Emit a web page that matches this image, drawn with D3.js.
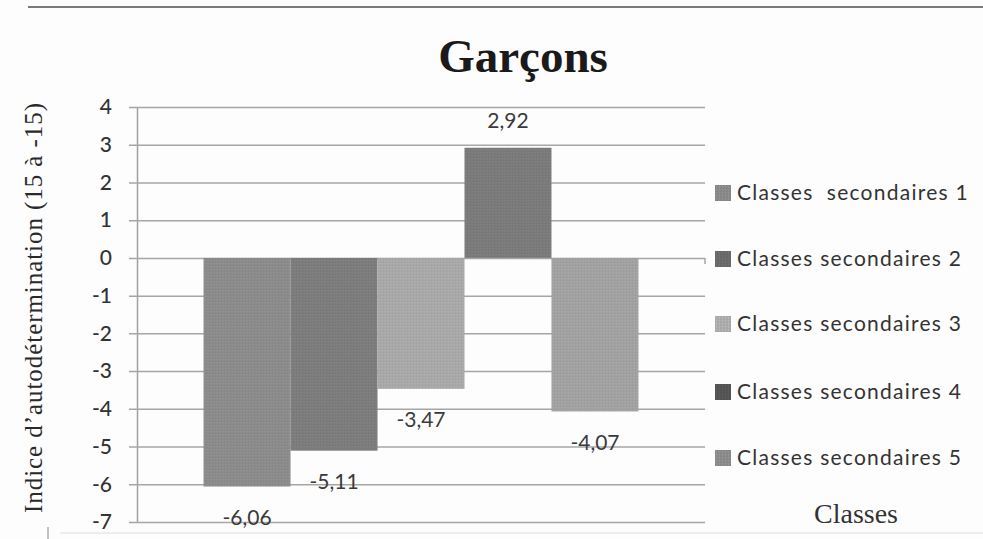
<!DOCTYPE html>
<html>
<head>
<meta charset="utf-8">
<script src="https://cdn.jsdelivr.net/npm/d3@7"></script>
<style>
  html, body { margin: 0; padding: 0; background: #fdfdfd; }
  svg { display: block; }
</style>
</head>
<body>
<script>
// Self-determination index for boys, by secondary class
const categories = ["Classes"];
const seriesNames = [
  "Classes  secondaires 1",
  "Classes secondaires 2",
  "Classes secondaires 3",
  "Classes secondaires 4",
  "Classes secondaires 5"
];
const seriesValues = [-6.06, -5.11, -3.47, 2.92, -4.07];
const valueLabels = ["-6,06", "-5,11", "-3,47", "2,92", "-4,07"];
const yTicks = [4, 3, 2, 1, 0, -1, -2, -3, -4, -5, -6, -7];
const seriesColors = ["#8c8c8c", "#7d7d7d", "#a9a9a9", "#7b7b7b", "#a2a2a2"];
const legendColors = ["#8a8a8a", "#6a6a6a", "#adadad", "#555555", "#8c8c8c"];

const W = 983, H = 539;
const margin = { left: 137, right: 705, top: 107, bottom: 522 };
const sans = "Lato, 'Open Sans', sans-serif";
const serif = "'Liberation Serif', 'Times New Roman', serif";

const svg = d3.select("body").append("svg")
  .attr("width", W).attr("height", H);

svg.append("rect").attr("width", W).attr("height", H).attr("fill", "#fdfdfd");

// Fine stippled fills for the bars
const defs = svg.append("defs");
function makePattern(id, base) {
  const c = d3.color(base);
  const p = defs.append("pattern").attr("id", id)
    .attr("patternUnits", "userSpaceOnUse").attr("width", 3).attr("height", 3);
  p.append("rect").attr("width", 3).attr("height", 3).attr("fill", base);
  const dark = c.darker(0.2).formatHex();
  const light = c.brighter(0.15).formatHex();
  [[0, 0, dark], [2, 1, dark], [1, 2, light], [1, 0, light]]
    .forEach(([x, y, f]) => p.append("rect").attr("x", x).attr("y", y)
      .attr("width", 1).attr("height", 1).attr("fill", f));
  return `url(#${id})`;
}
const fills = seriesColors.map((c, i) => makePattern("fill" + i, c));
const legendFills = legendColors.map((c, i) => makePattern("lfill" + i, c));

// Frame lines
svg.append("line")
  .attr("x1", 28).attr("x2", W).attr("y1", 7).attr("y2", 7)
  .attr("stroke", "#7a7a7a").attr("stroke-width", 2);
svg.append("line")
  .attr("x1", 60).attr("x2", W).attr("y1", 533).attr("y2", 533)
  .attr("stroke", "#dddddd").attr("stroke-width", 1);
svg.append("line")
  .attr("x1", 48).attr("x2", 48).attr("y1", 527).attr("y2", 539)
  .attr("stroke", "#888").attr("stroke-width", 1);

// Scales
const y = d3.scaleLinear().domain([-7, 4]).range([margin.bottom, margin.top]);
const x0 = d3.scaleBand().domain(categories)
  .range([margin.left, margin.right]).paddingInner(0).paddingOuter(0.153);
const x1 = d3.scaleBand().domain(d3.range(seriesValues.length))
  .range([0, x0.bandwidth()]).padding(0);

// Gridlines and value axis
const yAxis = d3.axisLeft(y).tickValues(yTicks)
  .tickSize(-(margin.right - margin.left)).tickSizeOuter(0)
  .tickPadding(25).tickFormat(d => d3.format("d")(d).replace("−", "-"));
const gy = svg.append("g").attr("transform", `translate(${margin.left},0)`).call(yAxis);
gy.select(".domain").attr("stroke", "#a0a0a0").attr("stroke-width", 1.5);
gy.selectAll(".tick line").attr("stroke", "#a6a6a6").attr("stroke-width", 1.5)
  .attr("x1", -8);
gy.selectAll(".tick text")
  .attr("font-family", sans).attr("font-weight", 500)
  .attr("font-size", 21).attr("fill", "#333");

// Right-end tick on the zero line
svg.append("line")
  .attr("x1", margin.right).attr("x2", margin.right)
  .attr("y1", y(0)).attr("y2", y(0) + 6)
  .attr("stroke", "#a6a6a6").attr("stroke-width", 1.5);

// Bars
const group = svg.append("g").attr("transform", `translate(${x0(categories[0])},0)`);
group.selectAll("rect.bar").data(seriesValues).join("rect")
  .attr("class", "bar")
  .attr("x", (d, i) => x1(i))
  .attr("width", x1.bandwidth())
  .attr("y", d => y(Math.max(0, d)))
  .attr("height", d => Math.abs(y(d) - y(0)))
  .attr("fill", (d, i) => fills[i]);

// Value labels
group.selectAll("text.val").data(seriesValues).join("text")
  .attr("class", "val")
  .attr("x", (d, i) => x1(i) + x1.bandwidth() / 2)
  .attr("y", d => d < 0 ? y(d) + 31 : y(d) - 27)
  .attr("dy", "0.35em")
  .attr("text-anchor", "middle")
  .attr("font-family", sans)
  .attr("font-size", 21).attr("fill", "#3a3a3a")
  .text((d, i) => valueLabels[i]);

// Title
svg.append("text")
  .attr("x", 523).attr("y", 72)
  .attr("text-anchor", "middle")
  .attr("font-family", serif)
  .attr("font-weight", "bold").attr("font-size", 47).attr("fill", "#1a1a1a")
  .text("Garçons");

// Y-axis title
svg.append("text")
  .attr("transform", "translate(42,308) rotate(-90)")
  .attr("text-anchor", "middle")
  .attr("font-family", serif)
  .attr("font-size", 25).attr("fill", "#2a2a2a")
  .attr("textLength", 410).attr("lengthAdjust", "spacing")
  .text("Indice d’autodétermination (15 à -15)");

// Legend
const legendY = [193, 259, 324, 392, 458];
const legend = svg.append("g");
const rows = legend.selectAll("g").data(seriesNames).join("g")
  .attr("transform", (d, i) => `translate(715,${legendY[i]})`);
rows.append("rect")
  .attr("x", 0).attr("y", -8).attr("width", 16).attr("height", 16)
  .attr("fill", (d, i) => legendFills[i]);
rows.append("text")
  .attr("x", 22).attr("dy", "0.35em")
  .attr("font-family", sans)
  .attr("font-size", 21).attr("fill", "#333")
  .attr("letter-spacing", 1.25)
  .style("white-space", "pre")
  .text(d => d);

// Category axis title
svg.append("text")
  .attr("x", 856).attr("y", 523)
  .attr("text-anchor", "middle")
  .attr("font-family", serif)
  .attr("font-size", 28).attr("fill", "#333")
  .text("Classes");
</script>
</body>
</html>
